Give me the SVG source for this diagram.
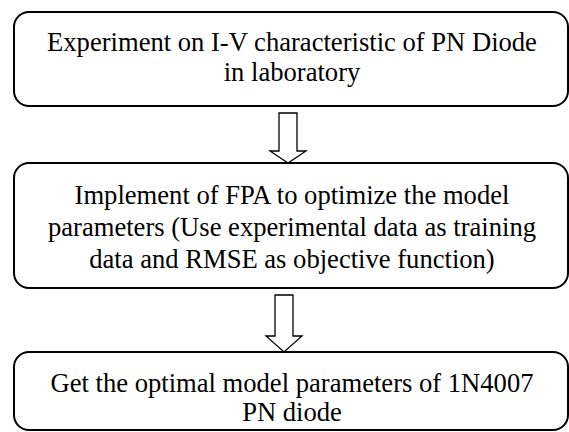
<svg xmlns="http://www.w3.org/2000/svg" width="569" height="432" viewBox="0 0 569 432">
<style>
.box{fill:#fff;stroke:#000;stroke-width:2}
.arr{fill:#fff;stroke:#000;stroke-width:1.3;stroke-linejoin:miter}
.t{font-size:26.6px;fill:#000;text-anchor:middle}
</style>
<rect width="569" height="432" fill="#fff"/>
<g id="connectors">
<path class="arr" d="M279,113 H297 V151 H306 L288,163 L270,151 H279 Z"/>
<path class="arr" d="M275,295 H293 V336 H302 L284,352 L266,336 H275 Z"/>
</g>
<g id="node1" font-family="'Liberation Serif', 'Times New Roman', 'DejaVu Serif', serif">
<rect class="box" x="14" y="12" width="554" height="94" rx="15"/>
<text class="t" x="292" y="51">Experiment on I-V characteristic of PN Diode</text>
<text class="t" x="292" y="81">in laboratory</text>
</g>
<g id="node2" font-family="'Liberation Serif', 'Times New Roman', 'DejaVu Serif', serif">
<rect class="box" x="14" y="163" width="554" height="125" rx="15"/>
<text class="t" x="292" y="204">Implement of FPA to optimize the model</text>
<text class="t" x="292" y="236">parameters (Use experimental data as training</text>
<text class="t" x="292" y="268">data and RMSE as objective function)</text>
</g>
<g id="node3" font-family="'Liberation Serif', 'Times New Roman', 'DejaVu Serif', serif">
<rect class="box" x="14" y="352" width="554" height="78" rx="15"/>
<text class="t" x="292" y="392">Get the optimal model parameters of 1N4007</text>
<text class="t" x="292" y="421">PN diode</text>
</g>
</svg>
